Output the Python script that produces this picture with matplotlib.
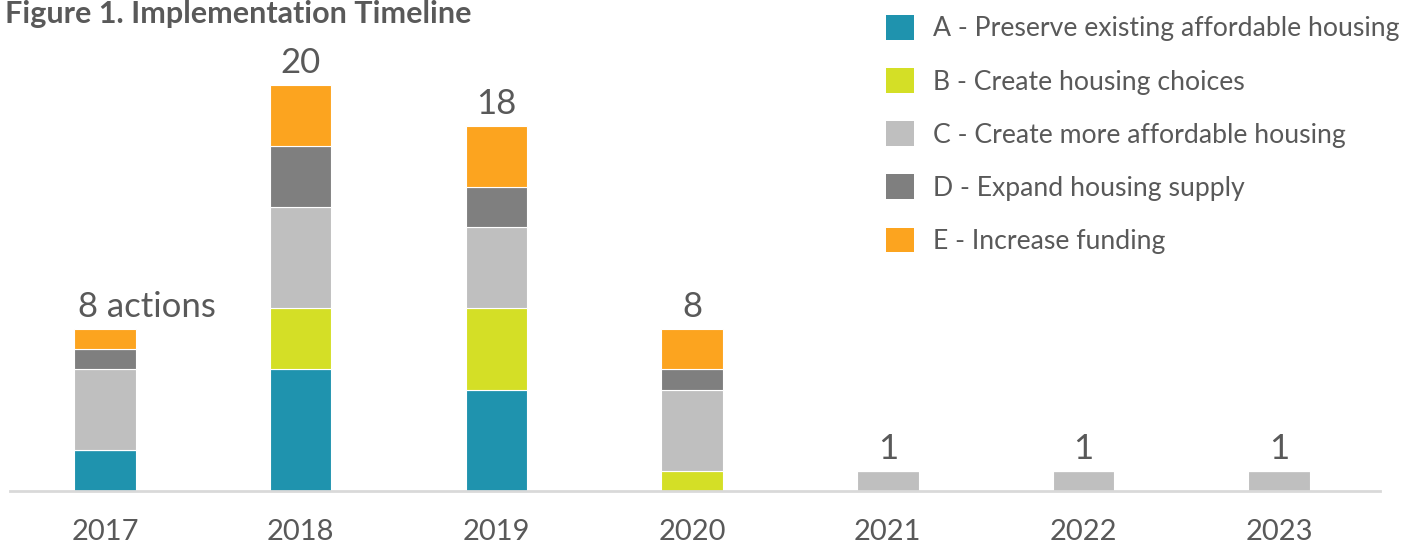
import numpy as np
import matplotlib.pyplot as plt
from matplotlib.patches import Patch

plt.rcParams['font.family'] = ['Lato', 'DejaVu Sans']

years = ['2017', '2018', '2019', '2020', '2021', '2022', '2023']
a_preserve = [2, 6, 5, 0, 0, 0, 0]
b_choices = [0, 3, 4, 1, 0, 0, 0]
c_affordable = [4, 5, 4, 4, 1, 1, 1]
d_supply = [1, 3, 2, 1, 0, 0, 0]
e_funding = [1, 3, 3, 2, 0, 0, 0]
total_labels = ['8 actions', '20', '18', '8', '1', '1', '1']

series_names = ['A - Preserve existing affordable housing',
                'B - Create housing choices',
                'C - Create more affordable housing',
                'D - Expand housing supply',
                'E - Increase funding']
colors = ['#1f93ae', '#d4df26', '#bfbfbf', '#7f7f7f', '#fca41f']
txt = '#595959'
bar_w = 0.315

W, H = 1413, 545
fig = plt.figure(figsize=(W / 100, H / 100), dpi=100)
ax = fig.add_axes([10 / W, 54 / H, 1370 / W, 487 / H])

x = np.arange(len(years))
bottom = np.zeros(len(years))
for vals, col in zip([a_preserve, b_choices, c_affordable, d_supply, e_funding], colors):
    v = np.array(vals, dtype=float)
    ax.bar(x, v, width=bar_w, bottom=bottom, color=col, edgecolor='white', linewidth=0.8)
    bottom += v

# total above each bar; the first one ("8 actions") starts at the bar's left edge
for i, (xi, tot, lab) in enumerate(zip(x, bottom, total_labels)):
    if i == 0:
        ax.text(xi - bar_w / 2 + 0.02, tot + 0.3, lab, ha='left', va='bottom',
                fontsize=25, color=txt)
    else:
        ax.text(xi, tot + 0.3, lab, ha='center', va='bottom', fontsize=25, color=txt)

ax.set_xlim(-0.485, 6.515)
ax.set_ylim(0, 24)
ax.set_xticks(x)
ax.set_xticklabels(years, fontsize=21, color=txt)
ax.tick_params(axis='x', length=0, pad=20)
ax.set_yticks([])
for s in ['top', 'left', 'right']:
    ax.spines[s].set_visible(False)
ax.spines['bottom'].set_color('#d9d9d9')
ax.spines['bottom'].set_linewidth(2)

fig.text(5 / W, 1 - 23 / H, 'Figure 1. Implementation Timeline', fontsize=22,
         fontweight='bold', color=txt, ha='left', va='baseline')

handles = [Patch(facecolor=c, edgecolor='none') for c in colors]
fig.legend(handles, series_names, loc='upper left',
           bbox_to_anchor=(886 / W, 1 - 15 / H), frameon=False,
           fontsize=19.2, labelcolor=txt, handlelength=1.05, handleheight=1.05,
           handletextpad=0.7, labelspacing=1.0, borderpad=0, borderaxespad=0)

fig.savefig('out.png', dpi=100)
